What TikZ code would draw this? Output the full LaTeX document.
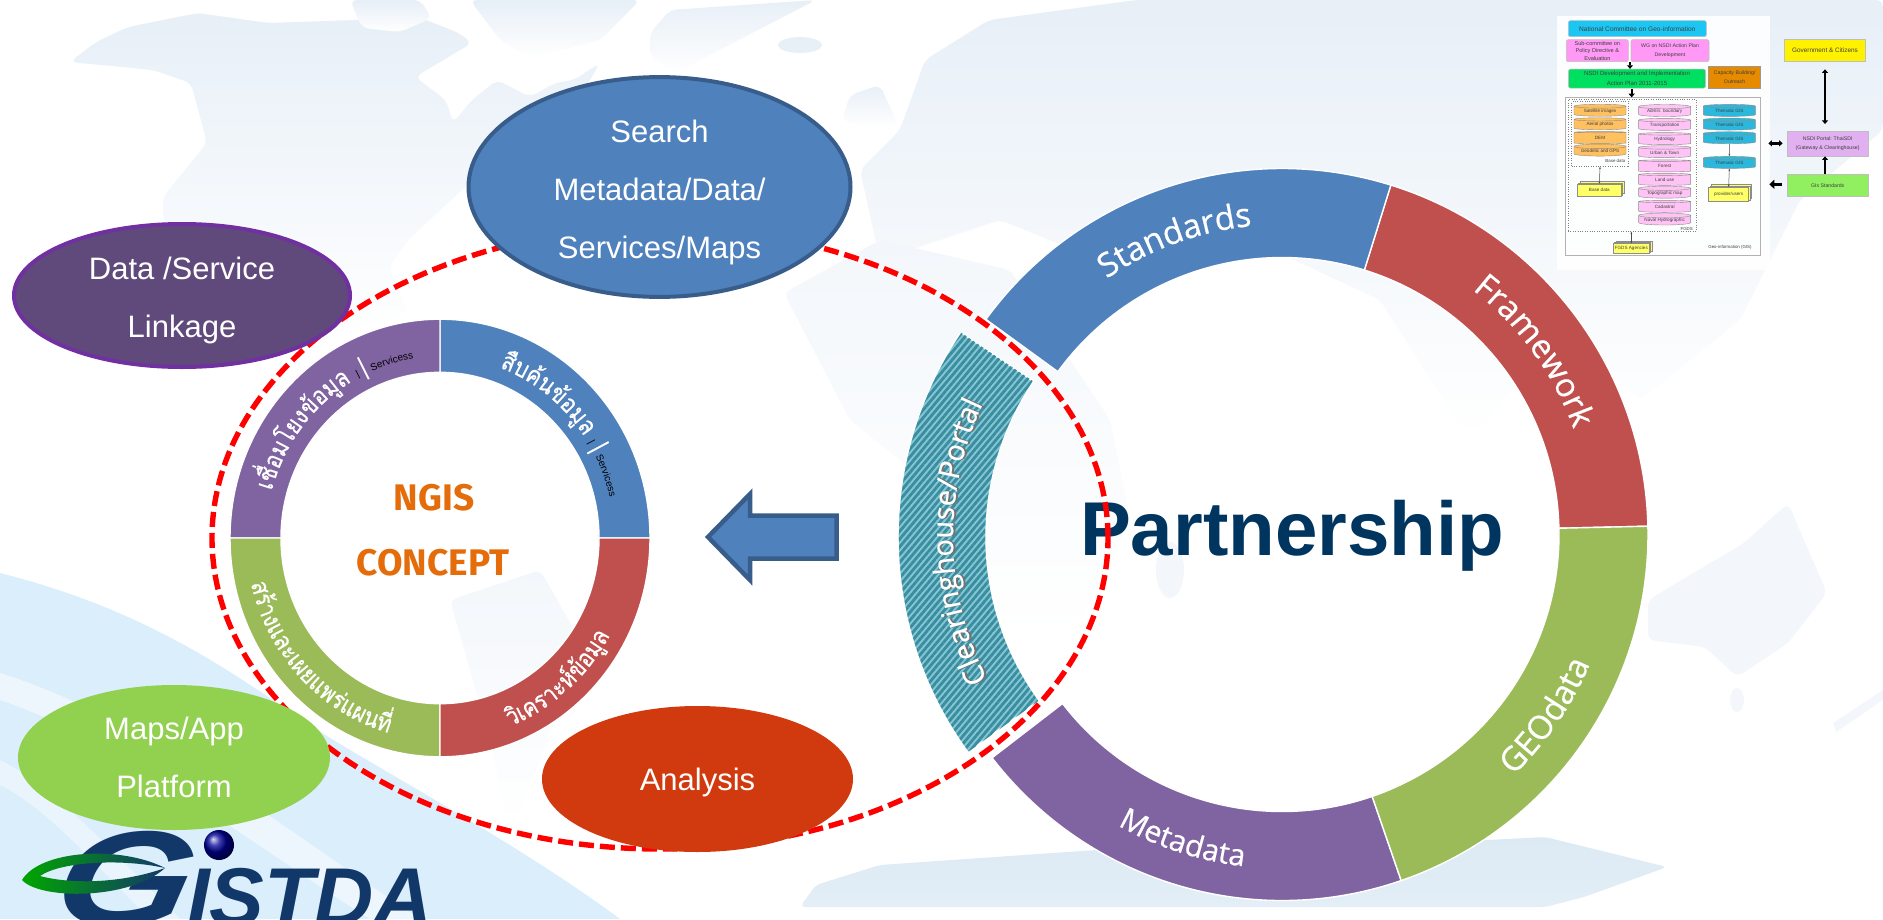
\documentclass[tikz,border=0pt]{standalone}
\usepackage{fontspec}
\setmainfont{Liberation Sans}
\newfontfamily\thaifont[Script=Thai,FakeStretch=0.86,FakeBold=0.5]{Loma}
\newfontfamily\ringfont[FakeBold=0.6]{Open Sans}
\newfontfamily\headfont{Fira Sans}
\usetikzlibrary{calc,shapes.geometric,shadows,arrows.meta,decorations.text,patterns.meta}
\definecolor{segblue}{HTML}{4F81BD}
\definecolor{segred}{HTML}{C0504D}
\definecolor{seggreen}{HTML}{9BBB59}
\definecolor{segpurple}{HTML}{8064A2}
\definecolor{bluerim}{HTML}{385D8A}
\definecolor{darkpurple}{HTML}{604A7B}
\definecolor{purplerim}{HTML}{7030A0}
\definecolor{mapapp}{HTML}{92D050}
\definecolor{analysisred}{HTML}{D13A0F}
\definecolor{navy}{HTML}{00355F}
\definecolor{logonavy}{HTML}{12386A}
\definecolor{orangehead}{HTML}{E46C0A}
\definecolor{landtint}{HTML}{E7EFF7}
\definecolor{palesea}{HTML}{F3F7FB}
\definecolor{polar}{HTML}{DCEAF4}
\definecolor{swoosh}{HTML}{DBEEFB}
\definecolor{tealdark}{HTML}{3A8CA0}
\definecolor{teallight}{HTML}{84C6D2}
\definecolor{tcyan}{HTML}{1CC6F2}
\definecolor{tpink}{HTML}{FF99F5}
\definecolor{tgreen}{HTML}{00E060}
\definecolor{torange}{HTML}{E68A00}
\definecolor{tdiskor}{HTML}{FFC060}
\definecolor{tdiskpk}{HTML}{FFC4F5}
\definecolor{tdiskcy}{HTML}{2BB8DC}
\definecolor{tyellow}{HTML}{FFFF66}
\definecolor{tviolet}{HTML}{E0B0F0}
\definecolor{tlime}{HTML}{90F060}
\newcommand{\ringpart}[6]{%
  \path[#6] ($(#1)+(#2:#4)$) arc[start angle=#2,end angle=#3,radius=#4]
    -- ($(#1)+(#3:#5)$) arc[start angle=#3,end angle=#2,radius=#5] -- cycle;}
\newcommand{\ringlabel}[6]{%
  \path[decorate,decoration={text along path,text align=center,text={|#6|#5}}]
    ($(#1)+(#2:#4)$) arc[start angle=#2,end angle=#3,radius=#4];}
\newcommand{\ovaldrop}[1]{\rule{0pt}{#1}}
\newcommand{\thaiwhite}{\thaifont\fontsize{25}{25}\selectfont\color{white}}
\newcommand{\latinwhite}{\ringfont\fontsize{24}{24}\selectfont\color{white}}
\tikzset{
  segment/.style={draw=white,line width=1.4pt},
  oval/.style={ellipse,inner sep=0pt,outer sep=0pt,align=center,text=white,
    font=\fontsize{31}{58}\selectfont},
  land/.style={top color=landtint,bottom color=white,draw=none,rounded corners=7pt},
  thumb/.style={inner sep=0pt,align=center,text=black!75,font=\fontsize{6.6}{10}\selectfont},
  tbox/.style={thumb,rounded corners=2pt,draw=black!25,line width=.6pt},
  tdisk/.style={thumb,cylinder,shape border rotate=90,aspect=.12,draw=black!45,line width=.4pt,
    minimum width=52pt,minimum height=12pt,font=\fontsize{4.6}{6}\selectfont},
  tstack/.style={thumb,draw=black!45,fill=tyellow,line width=.4pt,
    double copy shadow={shadow xshift=1.2pt,shadow yshift=1.2pt},font=\fontsize{4.6}{6}\selectfont},
  tnote/.style={thumb,font=\fontsize{4.4}{6}\selectfont},
  tblock/.style={line width=1.8pt,black,-{Triangle[length=3.6pt,width=6pt]}},
  tdouble/.style={line width=1.8pt,black,{Triangle[length=3.6pt,width=6pt]}-{Triangle[length=3.6pt,width=6pt]}},
  tthin/.style={line width=.5pt,black!70,{Stealth[length=2.4pt]}-{Stealth[length=2.4pt]}}
}
\begin{document}
\begin{tikzpicture}[x=1pt,y=1pt]
  \useasboundingbox (0,-919) rectangle (1883,0);
  \clip (0,-919) rectangle (1883,0);
  \fill[white] (0,-919) rectangle (1883,0);
  % pale world map
  \path[land] (70,-62) -- (96,-42) -- (128,-27) -- (198,-13) -- (268,-23) -- (357,-20) -- (408,-13)
    -- (459,-33) -- (472,-43) -- (415,-77) -- (446,-100) -- (453,-123) -- (472,-100) -- (497,-80)
    -- (530,-97) -- (555,-83) -- (574,-80) -- (600,-63) -- (560,-130) -- (465,-187) -- (408,-240)
    -- (389,-267) -- (408,-313) -- (300,-340) -- (236,-300) -- (163,-220) -- (163,-197) -- (207,-143)
    -- (191,-83) -- (153,-70) -- cycle;
  \path[land] (350,0) -- (420,0) -- (432,-18) -- (400,-32) -- (362,-28) -- cycle;
  \path[land] (470,0) -- (640,0) -- (600,-40) -- (530,-58) -- (500,-40) -- cycle;
  \path[land] (650,-33) -- (670,-10) -- (816,0) -- (700,-60) -- (676,-73) -- (650,-57) -- cycle;
  \fill[landtint] (800,-45) ellipse [x radius=22,y radius=8];
  \path[land] (842,-120) -- (850,-95) -- (880,-85) -- (898,-125) -- (870,-128) -- cycle;
  \path[land] (925,-60) -- (989,-20) -- (1136,0) -- (1883,0) -- (1883,-130) -- (1800,-200)
    -- (1740,-320) -- (1640,-400) -- (1560,-330) -- (1470,-440) -- (1380,-300) -- (1230,-230)
    -- (1100,-260) -- (1000,-220) -- (880,-260) -- (860,-170) -- (900,-130) -- cycle;
  \path[top color=palesea,bottom color=white,rounded corners=7pt] (784,-293) -- (880,-240) -- (1010,-270)
    -- (1110,-420) -- (1130,-520) -- (1080,-620) -- (1000,-640) -- (950,-500) -- (850,-420) -- cycle;
  \path[top color=palesea,bottom color=white,rounded corners=7pt] (450,-600) -- (540,-570) -- (580,-640)
    -- (540,-760) -- (510,-830) -- (490,-740) -- cycle;
  \fill[palesea] (1170,-570) ellipse [x radius=14,y radius=28];
  \fill[palesea,rounded corners=7pt] (1648,-600) -- (1744,-543) -- (1788,-503) -- (1827,-593) -- (1788,-643)
    -- (1737,-677) -- (1705,-647) -- (1648,-640) -- cycle;
  \fill[palesea] (1737,-700) ellipse [x radius=7,y radius=12];
  \fill[palesea] (1833,-723) -- (1883,-690) -- (1883,-700) -- (1836,-732) -- cycle;
  \path[top color=polar,bottom color=polar!80,rounded corners=5pt] (800,-907) -- (816,-885) -- (880,-865)
    -- (1053,-853) -- (1097,-850) -- (1488,-840) -- (1545,-837) -- (1667,-867) -- (1584,-897) -- (1545,-907) -- cycle;
  % corner swoosh
  \fill[swoosh] (0,-573) .. controls (119,-603) and (200,-650) .. (277,-703)
    .. controls (340,-750) and (500,-830) .. (620,-919) -- (0,-919) -- cycle;
  \fill[white,opacity=.5] (0,-673) .. controls (150,-720) and (300,-840) .. (420,-919) -- (370,-919)
    .. controls (260,-850) and (120,-740) .. (0,-700) -- cycle;
  \fill[white,opacity=.4] (0,-760) .. controls (60,-790) and (120,-860) .. (180,-919) -- (150,-919)
    .. controls (100,-870) and (50,-810) .. (0,-785) -- cycle;
  % small ring
  \begin{scope}[shift={(440,-538)},yscale=1.042]
    \coordinate (ngis) at (0,0);
    \ringpart{ngis}{0}{90}{210}{159}{segment,fill=segblue}
    \ringpart{ngis}{90}{180}{210}{159}{segment,fill=segpurple}
    \ringpart{ngis}{180}{270}{210}{159}{segment,fill=seggreen}
    \ringpart{ngis}{270}{360}{210}{159}{segment,fill=segred}
    \ringlabel{ngis}{175}{90}{174}{{เชื่}{อ}{ม}{โ}{ย}{ง}{ข้}{อ}{มู}{ล} ||{|\latinwhite|}Services||}{\thaiwhite}
    \ringlabel{ngis}{85}{0}{174}{{สื}{บ}{ค้}{น}{ข้}{อ}{มู}{ล} ||{|\latinwhite|}Services||}{\thaiwhite}
    \ringlabel{ngis}{-81}{-17}{194}{{วิ}{เ}{ค}{ร}{า}{ะ}{ห์}{ข้}{อ}{มู}{ล}}{\thaiwhite}
    \ringlabel{ngis}{184}{264}{194}{{ส}{ร้}{า}{ง}{แ}{ล}{ะ}{เ}{ผ}{ย}{แ}{พ}{ร่}{แ}{ผ}{น}{ที่}}{\thaiwhite}
  \end{scope}
  \draw (434,-498) node[text=orangehead,font=\headfont\bfseries\fontsize{37}{37}\selectfont] (head1){NGIS};
  \draw (433,-563) node[text=orangehead,font=\headfont\bfseries\fontsize{37}{37}\selectfont] (head2){CONCEPT};
  % big ring
  \coordinate (sdi) at (1282,-534.5);
  \coordinate (portal) at (1264,-537);
  \ringpart{sdi}{1.3}{72.7}{366}{277}{segment,fill=segred}
  \ringpart{sdi}{72.7}{144}{366}{277}{segment,fill=segblue}
  \ringpart{sdi}{217.6}{289}{366}{277}{segment,fill=segpurple}
  \ringpart{sdi}{289}{361.3}{366}{277}{segment,fill=seggreen}
  \ringpart{portal}{146}{216}{366}{278}{segment,fill=teallight}
  \ringpart{portal}{146}{216}{365}{279}{pattern={Lines[angle=50,distance=5pt,line width=2.8pt]},pattern color=tealdark}
  \ringlabel{sdi}{145}{75}{310}{Standards}{\ringfont\fontsize{33}{33}\selectfont\color{white}}
  \ringlabel{sdi}{72}{0}{310}{Framework}{\ringfont\fontsize{33}{33}\selectfont\color{white}}
  \ringlabel{sdi}{-72}{3}{334}{GEOdata}{\ringfont\fontsize{33}{33}\selectfont\color{white}}
  \ringlabel{sdi}{216}{288}{334}{Metadata}{\ringfont\fontsize{30}{30}\selectfont\color{white}}
  \ringlabel{portal}{216}{146}{309}{Clearinghouse/Portal}{\ringfont\fontsize{29}{29}\selectfont\color{black!55}}
  \ringlabel{portal}{216}{146}{311}{Clearinghouse/Portal}{\ringfont\fontsize{29}{29}\selectfont\color{white}}
  \draw (1292,-555) node[anchor=base,text=navy,font=\bfseries\fontsize{76.3}{76.3}\selectfont] (partner){Partnership};
  % loop round the concept and ovals
  \draw (660,-538) node[ellipse,draw=red,line width=5.4pt,dash pattern=on 15pt off 6pt,
    minimum width=896pt,minimum height=622pt,inner sep=0pt] (loop){};
  \draw (697.5,-779) node[oval,fill=analysisred,minimum width=311pt,minimum height=146pt] (analysis){\ovaldrop{30pt}Analysis};
  \draw (659.5,-187) node[oval,fill=segblue,draw=bluerim,line width=4pt,minimum width=382pt,minimum height=204pt] (search){\ovaldrop{33pt}Search\\Metadata/Data/\\Services/Maps};
  \draw (182,-295.5) node[oval,fill=darkpurple,draw=purplerim,line width=4pt,minimum width=336pt,minimum height=143pt] (linkage){\ovaldrop{33pt}Data /Service\\Linkage};
  \draw (174,-757.5) node[oval,fill=mapapp,minimum width=312pt,minimum height=145pt] (platform){Maps/App\\Platform};
  % arrow between the rings
  \draw[fill=segblue,draw=bluerim,line width=4.5pt,miter limit=8] (708,-537) -- (750,-494) -- (750,-515.5)
    -- (836.5,-515.5) -- (836.5,-558.5) -- (750,-558.5) -- (750,-580) -- cycle;
  % logo
  \draw (118,-925) node[anchor=base,text=logonavy,xscale=1.3,xslant=.15,transform shape,
    font=\bfseries\itshape\fontsize{135}{135}\selectfont] (logog){G};
  \shade[left color=green!65!black,right color=logonavy] (22,-880) .. controls (40,-850) and (120,-845) .. (165,-868)
    .. controls (120,-858) and (60,-862) .. (40,-876) .. controls (70,-884) and (120,-884) .. (165,-868)
    .. controls (130,-900) and (40,-900) .. (22,-880) -- cycle;
  \draw (310,-925) node[anchor=base,text=logonavy,font=\bfseries\itshape\fontsize{82}{82}\selectfont] (logot){ISTDA};
  \shade[ball color=blue!60!black] (219,-845) circle (15);
  % plan at the top right
  \fill[white,opacity=.9] (1557,-16) rectangle (1770,-270);
  \begin{scope}[shift={(1540,0)},x=.33333pt,y=-.33333pt]
    \draw (292,86) node[tbox,fill=tcyan,minimum width=138pt,minimum height=16pt] (natcom){National Committee on Geo-information};
    \draw (172,152) node[tbox,fill=tpink,minimum width=62pt,minimum height=22pt,font=\fontsize{5.6}{7.4}\selectfont] (sub){Sub-committee on\\Policy Directive \&\\Evaluation};
    \draw (390,152) node[tbox,fill=tpink,minimum width=78pt,minimum height=22pt,font=\fontsize{5.2}{9}\selectfont] (wg){WG on NSDI Action Plan\\Development};
    \draw (291,236) node[tbox,fill=tgreen,minimum width=137pt,minimum height=19pt,font=\fontsize{6}{10}\selectfont] (plan){NSDI Development and Implementation\\Action Plan 2011-2015};
    \draw (584,232) node[thumb,draw=black!40,fill=torange,minimum width=52pt,minimum height=22pt,font=\fontsize{5.2}{8.4}\selectfont] (capacity){Capacity Building/\\Outreach};
    \draw (370,530) node[draw=black!30,line width=.8pt,minimum width=195pt,minimum height=158pt,inner sep=0pt] (geoinfo){};
    \draw (276,496) node[draw=black!50,dotted,line width=.4pt,minimum width=128pt,minimum height=132pt,inner sep=0pt] (fgds){};
    \draw (180,402) node[draw=black!50,dotted,line width=.4pt,minimum width=57pt,minimum height=65pt,inner sep=0pt] (basebox){};
    \draw (180,334) node[tdisk,fill=tdiskor] (d1){Satellite images};
    \draw (180,374) node[tdisk,fill=tdiskor] (d2){Aerial photos};
    \draw (180,414) node[tdisk,fill=tdiskor] (d3){DEM};
    \draw (180,454) node[tdisk,fill=tdiskor] (d4){Geodetic and GPS};
    \draw (374,335) node[tdisk,fill=tdiskpk] (p1){Admin. boundary};
    \draw (374,376) node[tdisk,fill=tdiskpk] (p2){Transportation};
    \draw (374,418) node[tdisk,fill=tdiskpk] (p3){Hydrology};
    \draw (374,458) node[tdisk,fill=tdiskpk] (p4){Urban \& Town};
    \draw (374,499) node[tdisk,fill=tdiskpk] (p5){Forest};
    \draw (374,540) node[tdisk,fill=tdiskpk] (p6){Land use};
    \draw (374,580) node[tdisk,fill=tdiskpk] (p7){Topographic map};
    \draw (374,621) node[tdisk,fill=tdiskpk] (p8){Cadastral};
    \draw (374,661) node[tdisk,fill=tdiskpk] (p9){Naval Hydrographic};
    \draw (568,334) node[tdisk,fill=tdiskcy] (t1){Thematic GIS};
    \draw (568,375) node[tdisk,fill=tdiskcy] (t2){Thematic GIS};
    \draw (568,416) node[tdisk,fill=tdiskcy] (t3){Thematic GIS};
    \draw (568,490) node[tdisk,fill=tdiskcy] (t4){Thematic GIS};
    \draw (178,570) node[tstack,minimum width=44pt,minimum height=12pt] (basestack){Base data};
    \draw (566,582) node[tstack,minimum width=40pt,minimum height=14pt] (provider){provider/users};
    \draw (274,746) node[tstack,minimum width=36pt,minimum height=10pt] (agencies){FGDS Agencies};
    \draw (226,484) node[tnote] (n1){Base data};
    \draw (440,686) node[tnote] (n2){FGDS};
    \draw (570,743) node[tnote] (n3){Geo-information (GIS)};
    \draw (855,151) node[thumb,draw=black!25,fill=yellow,minimum width=81pt,minimum height=22pt,font=\fontsize{6.4}{8}\selectfont] (gov){Government \& Citizens};
    \draw (863,431) node[thumb,draw=black!25,fill=tviolet,minimum width=81pt,minimum height=25pt,font=\fontsize{5.2}{9}\selectfont] (thaisdi){NSDI Portal: ThaiSDI\\(Gateway \& Clearinghouse)};
    \draw (863,557) node[thumb,draw=black!25,fill=tlime,minimum width=81pt,minimum height=22pt,font=\fontsize{5.2}{8}\selectfont] (std){GIs Standards};
    \coordinate (j1) at (270,187);
    \coordinate (j2) at (275,268);
    \coordinate (j3) at (275,292);
    \coordinate (j4) at (685,430);
    \coordinate (j5) at (728,430);
    \coordinate (j6) at (725,553);
    \coordinate (j7) at (688,553);
    \coordinate (j8) at (855,208);
    \coordinate (j9) at (855,372);
    \begin{scope}[-]
      \draw[tblock] (j1) to (plan.north -| j1);
      \draw[tblock] (j2) to (j3);
      \draw[tblock] (std.north -| j8) to (thaisdi.south -| j8);
      \draw[tdouble] (j8) to (j9);
      \draw[tdouble,line width=2.6pt] (j4) to (j5);
      \draw[tblock,line width=3pt,-{Triangle[length=5pt,width=9pt]}] (j6) to (j7);
      \draw[tthin] (basebox.south) to (basestack.north);
      \draw[tthin] (t4.south) to (provider.north);
      \draw[tthin] (fgds.south -| agencies) to (agencies.north);
      \draw[line width=.5pt,black!70,-{Stealth[length=2.4pt]}] (t3.south) to (t4.north);
    \end{scope}
  \end{scope}
\end{tikzpicture}
\end{document}
